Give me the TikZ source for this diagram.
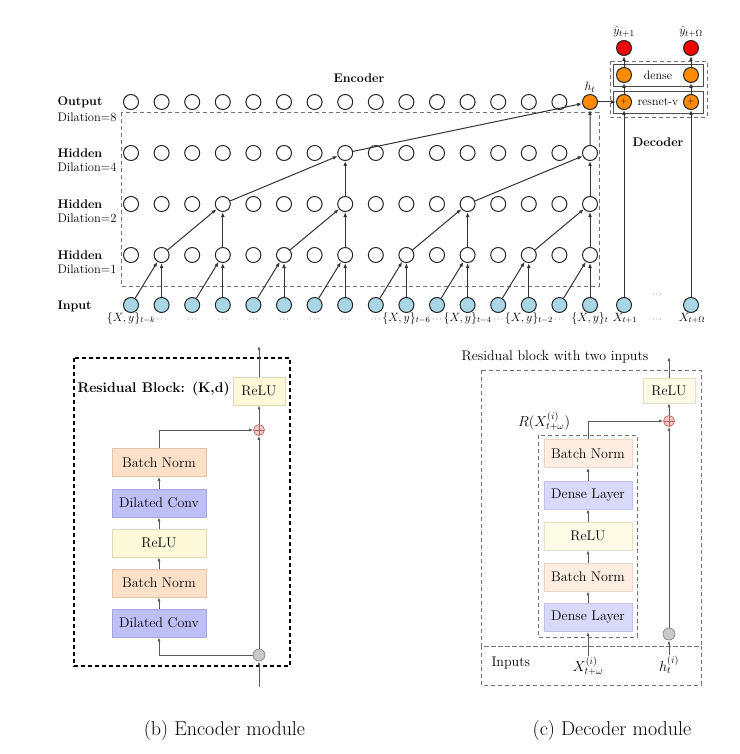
\documentclass[tikz,border=0pt]{standalone}
\usetikzlibrary{arrows.meta,calc}
\newcommand{\fsz}[1]{\fontsize{#1pt}{#1pt}\selectfont}
\definecolor{inblue}{HTML}{A9D6E5}
\definecolor{borange}{HTML}{FF8C00}
\definecolor{bred}{HTML}{EE0000}
\definecolor{bnfill}{HTML}{FCE1C8}
\definecolor{bndraw}{HTML}{E3C4A6}
\definecolor{dcfill}{HTML}{BFBFF7}
\definecolor{dcdraw}{HTML}{A6A6DE}
\definecolor{rlfill}{HTML}{FCF8D8}
\definecolor{rldraw}{HTML}{DEDAB8}
\definecolor{bnfillb}{HTML}{FDEEE1}
\definecolor{bndrawb}{HTML}{E8D6C6}
\definecolor{dlfill}{HTML}{D9D9FA}
\definecolor{dldraw}{HTML}{C2C2EC}
\definecolor{rlfillb}{HTML}{FDFBE6}
\definecolor{rldrawb}{HTML}{E4E1CA}
\definecolor{pinkc}{HTML}{F7C6C6}
\definecolor{pinkd}{HTML}{B85C5C}
\definecolor{grayc}{HTML}{C8C8C8}
\begin{document}
\begin{tikzpicture}[x=1pt,y=-1pt,
  neuron/.style={circle, draw=black!85, line width=1pt, minimum size=15pt, inner sep=0pt, fill=white},
  inneuron/.style={neuron, fill=inblue},
  orneuron/.style={neuron, fill=borange},
  rdneuron/.style={neuron, fill=bred},
  arr/.style={-{Latex[length=5pt,width=3.8pt]}, line width=1pt, draw=black!80},
  marr/.style={-{Latex[length=4pt,width=3pt]}, line width=0.8pt, draw=black!65},
  rowlab/.style={anchor=west, font=\bfseries\fsz{12.5}},
  dillab/.style={anchor=west, font=\fsz{12.5}},
  inlab/.style={anchor=base, font=\fsz{12}, inner sep=0pt},
  dotlab/.style={anchor=base, font=\fsz{8}, inner sep=0pt},
  blk/.style={draw, line width=0.6pt, minimum height=28pt, inner sep=0pt, font=\fsz{14}},
  ebox/.style={blk, minimum width=94pt},
  dbox/.style={blk, minimum width=88pt},
  plusc/.style={circle, draw=pinkd, fill=pinkc, line width=0.6pt, minimum size=11pt, inner sep=0pt,
    path picture={\draw[pinkd, line width=0.5pt] (path picture bounding box.north) -- (path picture bounding box.south)
      (path picture bounding box.west) -- (path picture bounding box.east);}},
  grayc/.style={circle, draw=black!50, fill=grayc, line width=0.6pt, minimum size=12pt, inner sep=0pt},
  gdash/.style={draw=black!55, line width=0.8pt, dash pattern=on 4pt off 3pt},
  tbox/.style={draw=black!70, line width=0.9pt, minimum width=90pt, minimum height=22pt, inner sep=0pt, font=\fsz{12}}
]
\useasboundingbox (0,0) rectangle (739,754);

% ---------------- top: encoder ----------------
\draw[gdash, line width=0.7pt] (121,112) rectangle (599,286);

\foreach \c in {0,...,15}{
  \pgfmathsetmacro{\xx}{131+30.6*\c}
  \node[inneuron] (i\c) at (\xx,305) {};
  \node[neuron] (a\c) at (\xx,255) {};
  \node[neuron] (b\c) at (\xx,204) {};
  \node[neuron] (d\c) at (\xx,153) {};
}
\foreach \c in {0,...,14}{
  \pgfmathsetmacro{\xx}{131+30.6*\c}
  \node[neuron] (o\c) at (\xx,102) {};
}
\node[orneuron] (o15) at (590,102) {};

\foreach \c [evaluate=\c as \p using int(\c-1)] in {1,3,...,15}{
  \draw[arr] (i\c) -- (a\c);
  \draw[arr] (i\p) -- (a\c);
}
\foreach \c [evaluate=\c as \p using int(\c-2)] in {3,7,11,15}{
  \draw[arr] (a\c) -- (b\c);
  \draw[arr] (a\p) -- (b\c);
}
\foreach \c [evaluate=\c as \p using int(\c-4)] in {7,15}{
  \draw[arr] (b\c) -- (d\c);
  \draw[arr] (b\p) -- (d\c);
}
\draw[arr] (d15) -- (o15);
\draw[arr] (d7) -- (o15);

% row labels
\node[rowlab] (lo) at (54,102) {Output};
\node[dillab] (lo2) at (54,117) {Dilation=8};
\node[rowlab] (lh4) at (54,153) {Hidden};
\node[dillab] (lh4b) at (54,167) {Dilation=4};
\node[rowlab] (lh2) at (54,204) {Hidden};
\node[dillab] (lh2b) at (54,218) {Dilation=2};
\node[rowlab] (lh1) at (54,255) {Hidden};
\node[dillab] (lh1b) at (54,269) {Dilation=1};
\node[rowlab] (lin) at (54,306) {Input};
\node[font=\bfseries\fsz{12.5}] (enc) at (359,78) {Encoder};
\node[font=\fsz{12.5}] (htl) at (590,87) {$h_t$};

% input labels
\node[inlab] (t0) at (131,321) {$\{X,y\}_{t-k}$};
\foreach \c in {1,...,8,10,12,14}{
  \pgfmathsetmacro{\xx}{131+30.6*\c}
  \node[dotlab] (t\c) at (\xx,321) {$\cdots$};
}
\node[inlab] (t9) at (406.4,321) {$\{X,y\}_{t-6}$};
\node[inlab] (t11) at (467.6,321) {$\{X,y\}_{t-4}$};
\node[inlab] (t13) at (528.8,321) {$\{X,y\}_{t-2}$};
\node[inlab] (t15) at (590,321) {$\{X,y\}_{t}$};
\node[inlab] (t16) at (625,321) {$X_{t+1}$};
\node[inlab] (t17) at (692,321) {$X_{t+\Omega}$};
\node[dotlab] (tdots) at (657,321) {$\cdots$};
\node[dotlab] (udots) at (657,296) {$\cdots$};

% ---------------- top: decoder ----------------
\draw[gdash, line width=0.7pt] (610,61) rectangle (707,117);
\node[tbox] (densebox) at (658,75) {dense};
\node[tbox] (resbox) at (658,102) {resnet-v};
\foreach \c/\xx in {16/624,17/691}{
  \node[inneuron] (i\c) at (\xx,305) {};
  \node[orneuron, font=\fsz{8}] (r\c) at (\xx,102) {+};
  \node[orneuron] (e\c) at (\xx,75) {};
  \node[rdneuron] (y\c) at (\xx,48) {};
  \draw[arr] (i\c) -- (r\c);
  \draw[arr] (r\c) -- (e\c);
  \draw[arr] (e\c) -- (y\c);
}
\draw[arr] (o15) -- (r16);
\node[font=\fsz{12.5}] (yh1) at (624,32) {$\hat{y}_{t+1}$};
\node[font=\fsz{12.5}] (yh2) at (691,32) {$\hat{y}_{t+\Omega}$};
\node[font=\bfseries\fsz{12.5}] (decl) at (658,142) {Decoder};

% ---------------- (b) encoder module ----------------
\draw[line width=1.1pt, dash pattern=on 4pt off 3pt] (74,358) rectangle (290,666);
\node[ebox, fill=dcfill, draw=dcdraw] (e1) at (159,623) {Dilated Conv};
\node[ebox, fill=bnfill, draw=bndraw] (e2) at (159,583) {Batch Norm};
\node[ebox, fill=rlfill, draw=rldraw] (e3) at (159,543) {ReLU};
\node[ebox, fill=dcfill, draw=dcdraw] (e4) at (159,503) {Dilated Conv};
\node[ebox, fill=bnfill, draw=bndraw] (e5) at (159,462.5) {Batch Norm};
\node[blk, fill=rlfill, draw=rldraw, minimum width=52pt] (eR) at (259,391) {ReLU};
\node[plusc] (eplus) at (259,430) {};
\node[grayc] (egray) at (259,655) {};
\coordinate (ebot) at (259,687);
\coordinate (etop) at (259,346);
\draw[marr] (ebot) -- (egray);
\draw[marr] (egray) -- (eplus);
\draw[marr] (eplus) -- (eR);
\draw[marr] (eR) -- (etop);
\draw[marr] (egray.west) -| (e1.south);
\draw[marr] (e1) -- (e2);
\draw[marr] (e2) -- (e3);
\draw[marr] (e3) -- (e4);
\draw[marr] (e4) -- (e5);
\draw[marr] (e5.north) |- (eplus.west);
\node[anchor=west, font=\bfseries\fsz{14}] (rbl) at (74,389) {Residual Block: (K,d)};
\node[font=\fsz{20}] (capb) at (224.5,731) {(b) Encoder module};

% ---------------- (c) decoder module ----------------
\draw[gdash] (481,370) rectangle (701,646);
\draw[gdash] (481,646) rectangle (701,685);
\draw[gdash] (538,435) rectangle (637,637);
\node[dbox, fill=dlfill, draw=dldraw] (d1) at (588,617.5) {Dense Layer};
\node[dbox, fill=bnfillb, draw=bndrawb] (d2) at (588,577) {Batch Norm};
\node[dbox, fill=rlfillb, draw=rldrawb] (d3) at (588,536) {ReLU};
\node[dbox, fill=dlfill, draw=dldraw] (d4) at (588,495) {Dense Layer};
\node[dbox, fill=bnfillb, draw=bndrawb] (d5) at (588,453.5) {Batch Norm};
\node[blk, fill=rlfillb, draw=rldrawb, minimum width=52pt, minimum height=25pt] (dR) at (669,390.5) {ReLU};
\node[plusc] (dplus) at (669,421) {};
\node[grayc] (dgray) at (669,634) {};
\coordinate (dtop) at (669,357);
\node[font=\fsz{14}, inner sep=1pt] (xin) at (588,666) {$X^{(i)}_{t+\omega}$};
\node[font=\fsz{14}, inner sep=1pt] (hin) at (669,665) {$h^{(i)}_{t}$};
\node[anchor=west, font=\fsz{14}] (inl) at (488,663) {Inputs};
\draw[marr] (xin.north) -- (d1.south);
\draw[marr] (hin.north) -- (dgray);
\draw[marr] (dgray) -- (dplus);
\draw[marr] (dplus) -- (dR);
\draw[marr] (dR) -- (dtop);
\draw[marr] (d1) -- (d2);
\draw[marr] (d2) -- (d3);
\draw[marr] (d3) -- (d4);
\draw[marr] (d4) -- (d5);
\draw[marr] (d5.north) |- (dplus.west);
\node[font=\fsz{14}] (rlab) at (544,421) {$R(X^{(i)}_{t+\omega})$};
\node[font=\fsz{14}] (rbt) at (555,357) {Residual block with two inputs};
\node[font=\fsz{20}] (capc) at (612,731) {(c) Decoder module};
\end{tikzpicture}
\end{document}
